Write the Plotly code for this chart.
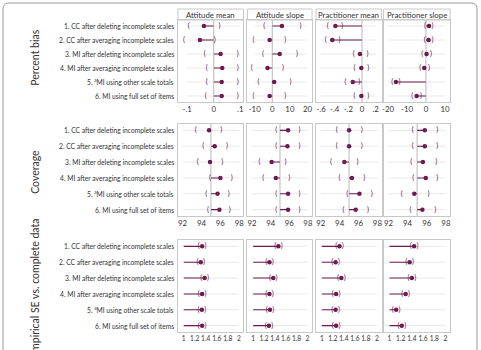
import plotly.graph_objects as go

# ---------------- data ----------------
methods = [
    "1. CC after deleting incomplete scales",
    "2. CC after averaging incomplete scales",
    "3. MI after deleting incomplete scales",
    "4. MI after averaging incomplete scales",
    "5. <sup>a</sup>MI using other scale totals",
    "6. MI using full set of items",
]
panel_titles = ["Attitude mean", "Attitude slope", "Practitioner mean", "Practitioner slope"]
section_titles = ["Percent bias", "Coverage", "Empirical SE vs. complete data"]

# Percent bias
bias_att_mean = [-0.037, -0.052, 0.026, 0.032, 0.030, 0.030]
bias_att_mean_lo = [-0.094, -0.112, -0.034, -0.026, -0.026, -0.030]
bias_att_mean_hi = [0.022, 0.004, 0.090, 0.090, 0.090, 0.090]

bias_att_slope = [5.5, -1.5, 4.2, -2.7, 1.1, -1.5]
bias_att_slope_lo = [-4.6, -10.7, -5.3, -11.6, -7.8, -10.7]
bias_att_slope_hi = [16.0, 7.4, 14.0, 6.1, 10.3, 7.4]

bias_pr_mean = [-0.39, -0.435, -0.03, -0.01, -0.135, -0.01]
bias_pr_mean_lo = [-0.50, -0.53, -0.12, -0.11, -0.24, -0.11]
bias_pr_mean_hi = [-0.29, -0.33, 0.08, 0.09, -0.04, 0.09]

bias_pr_slope = [1.6, 1.4, 0.3, -0.9, -15.8, -4.9]
bias_pr_slope_lo = [-0.5, -0.6, -1.9, -3.0, -17.7, -7.2]
bias_pr_slope_hi = [3.5, 3.5, 2.6, 1.6, -13.9, -2.6]

# Coverage
cov_att_mean = [94.8, 95.4, 94.9, 96.0, 95.7, 95.9]
cov_att_mean_lo = [93.4, 94.2, 93.6, 94.9, 94.5, 94.7]
cov_att_mean_hi = [96.1, 96.7, 96.2, 97.2, 96.9, 97.0]

cov_att_slope = [95.87, 95.8, 94.1, 94.55, 95.87, 95.87]
cov_att_slope_lo = [94.6, 94.6, 92.8, 93.2, 94.6, 94.6]
cov_att_slope_hi = [97.1, 97.1, 95.6, 96.0, 97.1, 97.1]

cov_pr_mean = [95.0, 95.0, 94.5, 95.3, 96.1, 95.7]
cov_pr_mean_lo = [93.7, 93.7, 93.1, 94.0, 94.8, 94.4]
cov_pr_mean_hi = [96.35, 96.35, 95.9, 96.6, 97.4, 97.0]

cov_pr_slope = [95.8, 95.8, 95.6, 95.9, 94.7, 95.55]
cov_pr_slope_lo = [94.55, 94.55, 94.4, 94.6, 93.4, 94.3]
cov_pr_slope_hi = [97.1, 97.1, 97.0, 97.1, 96.2, 96.9]

# Empirical SE ratio
se_att_mean = [1.335, 1.31, 1.38, 1.335, 1.33, 1.335]
se_att_mean_lo = [1.275, 1.25, 1.32, 1.275, 1.27, 1.275]
se_att_mean_hi = [1.395, 1.37, 1.44, 1.395, 1.39, 1.395]

se_att_slope = [1.465, 1.30, 1.37, 1.30, 1.31, 1.29]
se_att_slope_lo = [1.405, 1.24, 1.31, 1.24, 1.25, 1.23]
se_att_slope_hi = [1.525, 1.36, 1.43, 1.36, 1.37, 1.35]

se_pr_mean = [1.32, 1.25, 1.355, 1.26, 1.25, 1.26]
se_pr_mean_lo = [1.26, 1.19, 1.295, 1.20, 1.19, 1.20]
se_pr_mean_hi = [1.38, 1.31, 1.415, 1.32, 1.31, 1.32]

se_pr_slope = [1.44, 1.36, 1.40, 1.29, 1.12, 1.22]
se_pr_slope_lo = [1.38, 1.30, 1.34, 1.23, 1.06, 1.16]
se_pr_slope_hi = [1.50, 1.42, 1.46, 1.35, 1.18, 1.28]

# tick labels
bias_ticks = [
    ([-0.1, 0, 0.1], ["-.1", "0", ".1"]),
    ([-10, 0, 10, 20], ["-10", "0", "10", "20"]),
    ([-0.6, -0.4, -0.2, 0, 0.2], ["-.6", "-.4", "-.2", "0", ".2"]),
    ([-20, -10, 0, 10], ["-20", "-10", "0", "10"]),
]
cov_ticks = ([92, 94, 96, 98], ["92", "94", "96", "98"])
se_ticks = ([1, 1.2, 1.4, 1.6, 1.8, 2], ["1", "1.2", "1.4", "1.6", "1.8", "2"])

# ---------------- layout helpers ----------------
W, H = 481, 350
PURPLE = "#6e1a50"
BORDER = "#c8c8c8"
GRID = "#e8e8e8"
REFC = "#b8b8b8"
FONT = "Lato"
TXT = "#333333"

col_px = [(177, 243), (247, 312), (316, 382), (384, 451)]
sec_px = [(20, 102), (124, 216), (240, 332)]
sec_yrange = [[6.43, 0.57], [6.4, 0.6], [6.4, 0.6]]
sec_tickfont = [7.8, 7.8, 6.6]

sections = [
    dict(pts=[bias_att_mean, bias_att_slope, bias_pr_mean, bias_pr_slope],
         lo=[bias_att_mean_lo, bias_att_slope_lo, bias_pr_mean_lo, bias_pr_slope_lo],
         hi=[bias_att_mean_hi, bias_att_slope_hi, bias_pr_mean_hi, bias_pr_slope_hi],
         ticks=bias_ticks,
         ranges=[[-0.135, 0.112], [-14.1, 22.6], [-0.673, 0.287], [-22.3, 12.75]],
         ref=0, vline=True),
    dict(pts=[cov_att_mean, cov_att_slope, cov_pr_mean, cov_pr_slope],
         lo=[cov_att_mean_lo, cov_att_slope_lo, cov_pr_mean_lo, cov_pr_slope_lo],
         hi=[cov_att_mean_hi, cov_att_slope_hi, cov_pr_mean_hi, cov_pr_slope_hi],
         ticks=[cov_ticks] * 4,
         ranges=[[91.5, 98.45]] * 4,
         ref=95, vline=True),
    dict(pts=[se_att_mean, se_att_slope, se_pr_mean, se_pr_slope],
         lo=[se_att_mean_lo, se_att_slope_lo, se_pr_mean_lo, se_pr_slope_lo],
         hi=[se_att_mean_hi, se_att_slope_hi, se_pr_mean_hi, se_pr_slope_hi],
         ticks=[se_ticks] * 4,
         ranges=[[0.895, 2.085]] * 4,
         ref=1, vline=False),
]

fig = go.Figure()
layout = {}
shapes = []
annotations = []
rows = list(range(1, len(methods) + 1))

k = 0
for s, sec in enumerate(sections):
    top, bot = sec_px[s]
    for c in range(4):
        k += 1
        xa = "x" if k == 1 else f"x{k}"
        ya = "y" if k == 1 else f"y{k}"
        xkey = "xaxis" if k == 1 else f"xaxis{k}"
        ykey = "yaxis" if k == 1 else f"yaxis{k}"
        tv, tt = sec["ticks"][c]
        layout[xkey] = dict(
            domain=[col_px[c][0] / W, col_px[c][1] / W], anchor=ya,
            range=sec["ranges"][c], showgrid=False, zeroline=False,
            showline=True, mirror=True, linecolor=BORDER, linewidth=1,
            ticks="", tickvals=tv, ticktext=tt, tickangle=0,
            tickfont=dict(family=FONT, size=sec_tickfont[s], color=TXT),
            fixedrange=True)
        layout[ykey] = dict(
            domain=[1 - bot / H, 1 - top / H], anchor=xa,
            range=sec_yrange[s], showgrid=False, zeroline=False,
            showline=True, mirror=True, linecolor=BORDER, linewidth=1,
            showticklabels=False, ticks="", fixedrange=True)

        # row gridlines from first to last tick
        gx, gy = [], []
        for r in rows:
            gx += [tv[0], tv[-1], None]
            gy += [r, r, None]
        fig.add_trace(go.Scatter(x=gx, y=gy, xaxis=xa, yaxis=ya, mode="lines",
                                 line=dict(color=GRID, width=1), hoverinfo="skip",
                                 showlegend=False))
        if sec["vline"]:
            shapes.append(dict(type="line", xref=xa, yref=f"{ya} domain",
                               x0=sec["ref"], x1=sec["ref"], y0=0, y1=1,
                               line=dict(color=REFC, width=1), layer="below"))
        pts = sec["pts"][c]
        # connecting lines from reference value to estimate
        lx, ly = [], []
        for r, p in zip(rows, pts):
            lx += [sec["ref"], p, None]
            ly += [r, r, None]
        fig.add_trace(go.Scatter(x=lx, y=ly, xaxis=xa, yaxis=ya, mode="lines",
                                 line=dict(color=PURPLE, width=1.1), hoverinfo="skip",
                                 showlegend=False))
        fig.add_trace(go.Scatter(x=sec["lo"][c], y=rows, xaxis=xa, yaxis=ya, mode="text",
                                 text=["("] * 6, textposition="middle center",
                                 textfont=dict(family=FONT, size=7.5, color=PURPLE),
                                 showlegend=False, hoverinfo="skip"))
        fig.add_trace(go.Scatter(x=sec["hi"][c], y=rows, xaxis=xa, yaxis=ya, mode="text",
                                 text=[")"] * 6, textposition="middle center",
                                 textfont=dict(family=FONT, size=7.5, color=PURPLE),
                                 showlegend=False, hoverinfo="skip"))
        fig.add_trace(go.Scatter(x=pts, y=rows, xaxis=xa, yaxis=ya, mode="markers",
                                 marker=dict(color=PURPLE, size=4.5),
                                 showlegend=False))
        # row labels (first column only)
        if c == 0:
            for r, m in zip(rows, methods):
                annotations.append(dict(x=175.5 / W, xref="paper", y=r, yref=ya,
                                        text=m, showarrow=False, xanchor="right",
                                        yanchor="middle",
                                        font=dict(family=FONT, size=6.7, color=TXT)))

# panel title boxes
for c in range(4):
    x0, x1 = col_px[c]
    shapes.append(dict(type="rect", xref="paper", yref="paper",
                       x0=x0 / W, x1=x1 / W, y0=1 - 20 / H, y1=1 - 9 / H,
                       line=dict(color=BORDER, width=1)))
    annotations.append(dict(x=(x0 + x1) / 2 / W, y=1 - 14.8 / H, xref="paper", yref="paper",
                            text=panel_titles[c], showarrow=False,
                            xanchor="center", yanchor="middle",
                            font=dict(family=FONT, size=7.8, color=TXT)))

# section labels
sec_label_y = [58, 172, 288]
for s in range(3):
    annotations.append(dict(x=33 / W, y=1 - sec_label_y[s] / H, xref="paper", yref="paper",
                            text=section_titles[s], showarrow=False, textangle=-90,
                            xanchor="center", yanchor="middle",
                            font=dict(family=FONT, size=10.5, color=TXT)))

# outer rounded frame
def px(x):
    return x / W

def py(y):
    return 1 - y / H

rr = 6
L, R, T, B = 1, 478, 3, 380
path = (f"M {px(L)},{py(B)} L {px(L)},{py(T + rr)} Q {px(L)},{py(T)} {px(L + rr)},{py(T)} "
        f"L {px(R - rr)},{py(T)} Q {px(R)},{py(T)} {px(R)},{py(T + rr)} L {px(R)},{py(B)}")
shapes.append(dict(type="path", xref="paper", yref="paper", path=path,
                   line=dict(color="#9a9a9a", width=1)))

fig.update_layout(
    width=W, height=H, margin=dict(l=0, r=0, t=0, b=0),
    paper_bgcolor="white", plot_bgcolor="white",
    shapes=shapes, annotations=annotations, showlegend=False,
    **layout,
)
fig.write_html("out.html", config={"displayModeBar": False})
